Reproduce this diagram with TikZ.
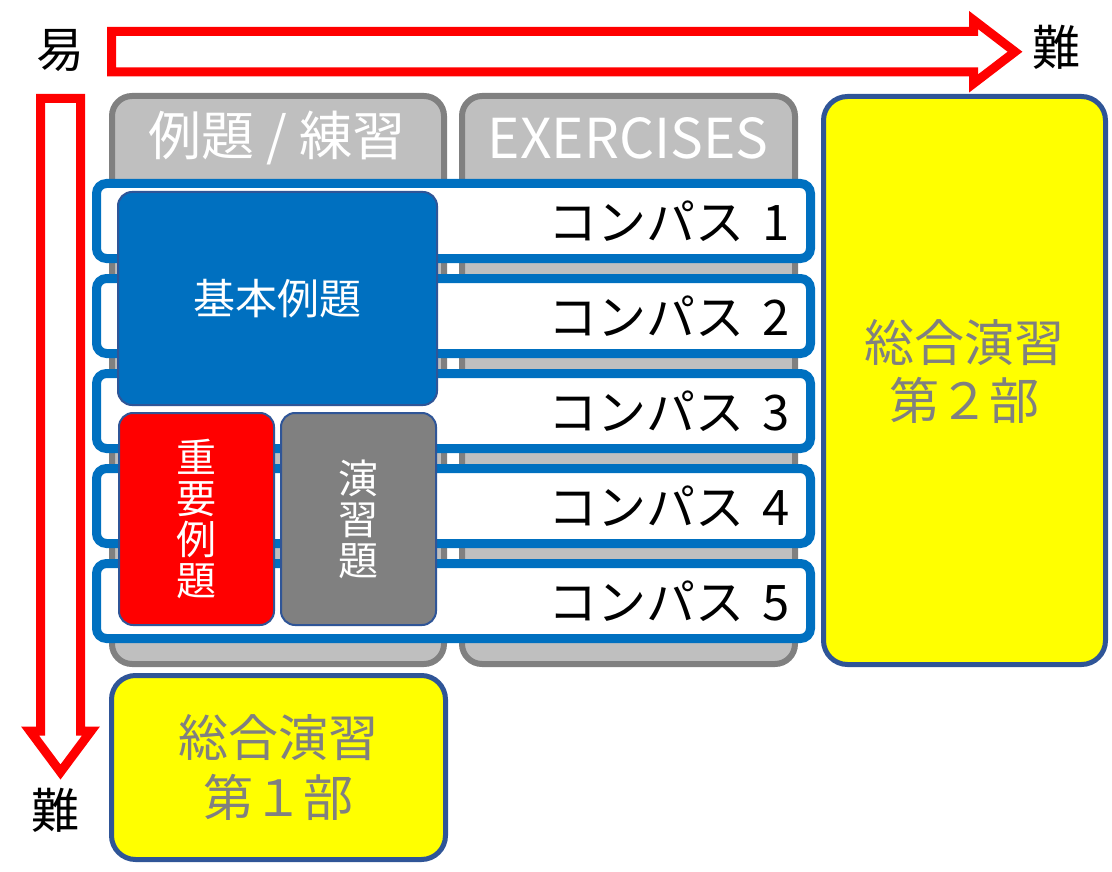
\documentclass[tikz,border=0pt]{standalone}
\usepackage{fontspec}
\setmainfont{Noto Sans CJK JP}
\definecolor{arrowred}{HTML}{FF0000}
\definecolor{barblue}{HTML}{0070C0}
\definecolor{edgeblue}{HTML}{2F5597}
\definecolor{midgray}{HTML}{808080}
\definecolor{lightgray}{HTML}{BFBFBF}
\definecolor{markyellow}{HTML}{FFFF00}
\newcommand{\fs}[1]{\fontsize{#1}{#1}\selectfont}
\tikzset{
    blockarrow/.style={draw=arrowred, line width=9pt, fill=white, line join=miter},
    panel/.style={draw=midgray, fill=lightgray, line width=6pt, rounded corners=20pt},
    bar/.style={draw=barblue, fill=white, line width=9pt, rounded corners=10pt},
    card/.style={draw=edgeblue, line width=2pt, rounded corners=14pt, text=white, inner sep=0pt},
    final/.style={draw=edgeblue, fill=markyellow, line width=5pt, rounded corners=24pt, text=midgray, align=center, inner sep=0pt}
}
\begin{document}
\begin{tikzpicture}[x=1pt, y=-1pt]

        \useasboundingbox (0,0) rectangle (1112,872);

        % arrows
        \draw[blockarrow] (111.5,31.5) -- (973.5,31.5) -- (973.5,20) -- (1015,51.75)
            -- (973.5,83.5) -- (973.5,72) -- (111.5,72) -- cycle;
        \draw[blockarrow] (40.5,98.5) -- (80.5,98.5) -- (80.5,731) -- (91,731) -- (60.5,772)
            -- (30,731) -- (40.5,731) -- cycle;

        \node (easy) at (60,50) {\fs{48}易};
        \node (hardx) at (1056,47) {\fs{48}難};
        \node (hardy) at (55,810) {\fs{48}難};

        % panels
        \draw[panel] (112,96) rectangle (444,664);
        \draw[panel] (462,96) rectangle (795,664);
        \node[text=white] (examples) at (277,138) {\fs{53}例題 / 練習};
        \node[text=white] (exercises) at (628,138) {\fs{55}EXERCISES};

        % compass bars
        \foreach \i in {1,...,5} {
            \draw[bar] (96.5,88.5+95*\i) rectangle (810.5,163.5+95*\i);
            \node[anchor=east, inner sep=0pt] (compass\i) at (790,126+95*\i)
                {\fs{49}コンパス\hspace{0.36em}\i};
        }

        % cards
        \node[card, fill=barblue, minimum width=319pt, minimum height=213pt] (basic)
            at (277.5,298.5) {\fs{42}基本例題};
        \node[card, fill=arrowred, minimum width=155pt, minimum height=212pt, align=center,
            font=\fontsize{40}{41}\selectfont] (key) at (196.5,519) {重\\要\\例\\題};
        \node[card, fill=midgray, minimum width=155pt, minimum height=212pt, align=center,
            font=\fontsize{40}{41}\selectfont] (drill) at (358.5,519) {演\\習\\題};

        % review
        \node[final, minimum width=282pt, minimum height=568pt] (part2) at (964.5,380.5) {};
        \node[text=midgray, align=center, font=\fontsize{50}{58}\selectfont] (part2text)
            at (964.5,371) {総合演習\\第２部};
        \node[final, minimum width=334pt, minimum height=184pt, font=\fontsize{50}{60}\selectfont]
            (part1) at (278.5,767.5) {総合演習\\第１部};

\end{tikzpicture}
\end{document}
